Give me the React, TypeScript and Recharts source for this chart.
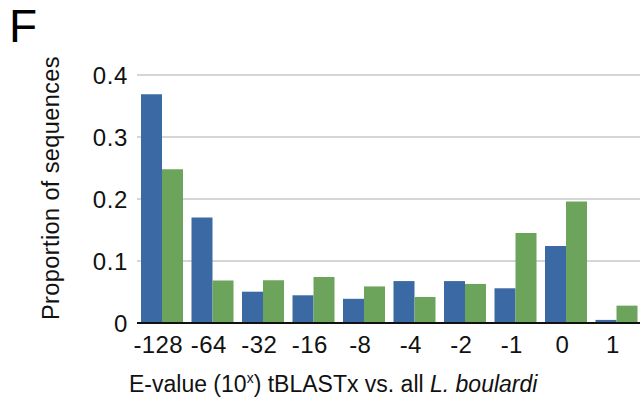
import React from "react";
import { BarChart, Bar, XAxis, YAxis, CartesianGrid } from "recharts";

const CATEGORIES = ["-128", "-64", "-32", "-16", "-8", "-4", "-2", "-1", "0", "1"];
const BLUE_VALUES = [0.369, 0.17, 0.0505, 0.0447, 0.039, 0.0676, 0.0676, 0.056, 0.124, 0.005];
const GREEN_VALUES = [0.248, 0.0686, 0.069, 0.074, 0.059, 0.042, 0.063, 0.145, 0.196, 0.028];
const Y_TICKS = [0, 0.1, 0.2, 0.3, 0.4];

const BLUE = "#3a69a3";
const GREEN = "#6ba45a";
const FONT = "'Liberation Sans', Arial, Helvetica, sans-serif";

const data = CATEGORIES.map((c, i) => ({ cat: c, blue: BLUE_VALUES[i], green: GREEN_VALUES[i] }));

function XTick(props: any) {
  const { x, y, payload } = props;
  return (
    <text x={x - 4} y={y} dy="0.71em" textAnchor="middle" fontSize={24} fontFamily={FONT} fill="#111" letterSpacing={0.4}>
      {payload.value}
    </text>
  );
}

function XTitle(props: any) {
  const vb = props.viewBox || {};
  return (
    <text x={vb.x - 8} y={vb.y + 69} fontSize={23} fontFamily={FONT} fill="#111">
      <tspan>E-value (10</tspan>
      <tspan fontSize={14} dy={-9}>x</tspan>
      <tspan dy={9}>) tBLASTx vs. all </tspan>
      <tspan fontStyle="italic">L. boulardi</tspan>
    </text>
  );
}

function YTitle(props: any) {
  const vb = props.viewBox || {};
  const cx = 51;
  const cy = vb.y + vb.height / 2 - 11;
  return (
    <text
      x={cx}
      y={cy}
      fontSize={23.5}
      fontFamily={FONT}
      fill="#111"
      textAnchor="middle"
      dominantBaseline="central"
      letterSpacing={0.4}
      transform={`rotate(-90 ${cx} ${cy})`}
    >
      Proportion of sequences
    </text>
  );
}

export default function App() {
  return (
    <div style={{ position: "fixed", left: 0, top: 0, width: 640, height: 407, overflow: "hidden", background: "#fff" }}>
      <div style={{ position: "absolute", left: 9, top: 3, fontSize: 46, fontFamily: FONT, color: "#000", lineHeight: 1 }}>F</div>
      <BarChart
        width={650}
        height={407}
        data={data}
        margin={{ top: 75, right: 8, bottom: 0, left: 0 }}
        barCategoryGap={4}
        barGap={0}
      >
        <CartesianGrid vertical={false} stroke="#c9c9c9" strokeWidth={1.5} />
        <XAxis
          dataKey="cat"
          height={84}
          tickLine={false}
          tickSize={0}
          tickMargin={13}
          axisLine={{ stroke: "#111", strokeWidth: 2 }}
          tick={<XTick />}
          interval={0}
          label={{ content: XTitle }}
        />
        <YAxis
          width={137}
          domain={[0, 0.4]}
          ticks={Y_TICKS}
          axisLine={false}
          tickLine={false}
          tickSize={0}
          tickMargin={9}
          tick={{ fontSize: 24, fill: "#111", fontFamily: FONT, letterSpacing: 0.6 }}
          tickFormatter={(v: number) => (v === 0 ? "0" : v.toFixed(1))}
          label={{ content: YTitle }}
        />
        <Bar dataKey="blue" fill={BLUE} isAnimationActive={false} />
        <Bar dataKey="green" fill={GREEN} isAnimationActive={false} />
      </BarChart>
    </div>
  );
}
